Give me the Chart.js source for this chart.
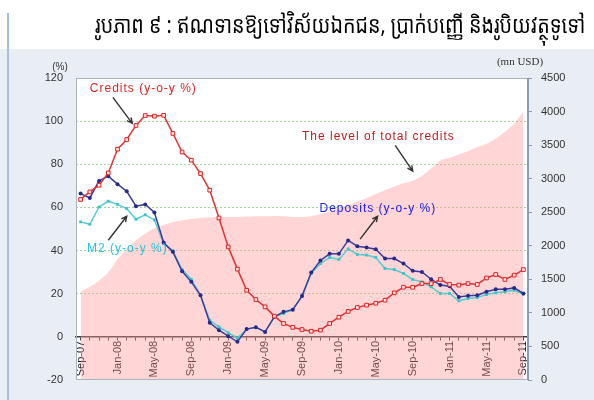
<!DOCTYPE html>
<html>
<head>
<meta charset="utf-8">
<script src="https://cdn.jsdelivr.net/npm/chart.js@4.4.1/dist/chart.umd.min.js"></script>
<style>
  html, body { margin: 0; padding: 0; }
  body { width: 594px; height: 400px; position: relative; overflow: hidden; background: #e9eef5; }
  #band { position: absolute; left: 0; top: 0; width: 594px; height: 49px; background: #fff; }
  #edge { position: absolute; left: 7px; top: 13px; width: 2px; height: 387px; background: #a3bde4; }
  #title { position: absolute; left: 95px; top: 6px; font-size: 24px; line-height: 36px; color: #000; white-space: nowrap;
           transform-origin: 0 0; font-family: "Noto Sans Khmer", "Khmer OS", "Noto Sans", sans-serif; }
  #wrap { position: absolute; left: 0; top: 0; width: 594px; height: 400px; }
</style>
</head>
<body>
<div id="band"></div>
<div id="edge"></div>
<div id="wrap"><canvas id="chart" width="594" height="400"></canvas></div>
<div id="title">រូបភាព ៩ : ឥណទានឱ្យទៅវិស័យឯកជន, ប្រាក់បញ្ញើ និងរូបិយវត្ថុទូទៅ</div>
<script>
// monthly, Sep-07 .. Sep-11
const months = [
  'Sep-07','Oct-07','Nov-07','Dec-07','Jan-08','Feb-08','Mar-08','Apr-08','May-08','Jun-08','Jul-08','Aug-08',
  'Sep-08','Oct-08','Nov-08','Dec-08','Jan-09','Feb-09','Mar-09','Apr-09','May-09','Jun-09','Jul-09','Aug-09',
  'Sep-09','Oct-09','Nov-09','Dec-09','Jan-10','Feb-10','Mar-10','Apr-10','May-10','Jun-10','Jul-10','Aug-10',
  'Sep-10','Oct-10','Nov-10','Dec-10','Jan-11','Feb-11','Mar-11','Apr-11','May-11','Jun-11','Jul-11','Aug-11',
  'Sep-11'
];

// y-o-y growth, %
const creditsYoY = [63.7, 67.2, 70.3, 76, 87, 91.5, 98, 102.6, 102.3, 102.7, 94.3, 85.7, 81.9, 75.7, 68, 55.1,
  41.7, 31.4, 21.6, 17.3, 13.9, 9.6, 6.2, 4.4, 3.4, 2.6, 3.1, 6.2, 9.1, 11.8, 13.6, 14.7, 15.6, 17, 20.4, 23,
  23, 24.7, 24.7, 26.6, 24.3, 24, 24.7, 24.3, 27.3, 28.9, 26.6, 28.6, 31.2];
const depositsYoY = [66.4, 64.4, 72.3, 74.5, 70.8, 67.5, 60.6, 61.4, 57.7, 43.7, 39.4, 30.4, 25.5, 19.3, 6.5, 3.1,
  0.3, -2.3, 3.6, 4.4, 2.3, 9.3, 11.6, 12.6, 18.9, 29.8, 35.4, 38.5, 38.5, 44.7, 42, 41.4, 40.6, 36.3, 36.3, 34,
  30.6, 30.1, 26.7, 24, 23.5, 18.5, 19, 19.3, 20.9, 22.1, 22.1, 22.7, 20.1];
const m2YoY = [53.3, 52.2, 60.2, 62.9, 61.4, 59.5, 54.5, 56.6, 54.2, 43.3, 39.9, 31.2, 26.7, 19.3, 7.7, 4.6,
  1.9, -0.5, 3.6, 4.4, 2.3, 9.2, 10.8, 12.6, 18.9, 29.4, 34, 36.8, 35.9, 40.8, 38.2, 37.9, 36.8, 31.7, 31.2, 29.4,
  26.6, 25.5, 23.2, 20.1, 20.1, 16.7, 17.8, 18.2, 19.6, 20.4, 20.9, 21.6, 19.8];

// level of total credits, mn USD (right axis)
const totalCredits = [1320, 1390, 1480, 1600, 1800, 1950, 2080, 2180, 2260, 2310, 2350, 2380, 2400, 2415, 2425, 2430,
  2430, 2430, 2435, 2440, 2440, 2445, 2440, 2430, 2430, 2440, 2470, 2510, 2560, 2610, 2660, 2710, 2770, 2830, 2880, 2930,
  2970, 3040, 3150, 3270, 3310, 3360, 3410, 3470, 3520, 3600, 3700, 3820, 4000];

const pctRange = [-20, 120];
const usdRange = [0, 4500];

// callouts, anchored in data units: [month index, % value]
const notes = [
  { text: 'Credits (y-o-y %)', color: '#e02424', at: [1.0, 115.2], from: [3.5, 111], to: [5.6, 99] },
  { text: 'The level of total credits', color: '#c41a1a', at: [24.0, 93], from: [34.1, 88.8], to: [36.0, 76.8] },
  { text: 'Deposits (y-o-y %)', color: '#1a1aff', at: [25.9, 59.2], from: [30.3, 45.3], to: [32.2, 55.9] },
  { text: 'M2 (y-o-y %)', color: '#22c4e0', at: [0.7, 41.1], from: [3.0, 44.8], to: [5.0, 55.9] }
];

const FONT = '"Liberation Sans", Arial, sans-serif';

// squeeze the title into the width it takes in the original
const title = document.getElementById('title');
title.style.transform = 'scaleX(' + (490 / title.scrollWidth) + ')';

function arrow(ctx, x1, y1, x2, y2) {
  const a = Math.atan2(y2 - y1, x2 - x1);
  ctx.beginPath();
  ctx.moveTo(x1, y1);
  ctx.lineTo(x2, y2);
  ctx.moveTo(x2 - 6 * Math.cos(a - 0.45), y2 - 6 * Math.sin(a - 0.45));
  ctx.lineTo(x2, y2);
  ctx.lineTo(x2 - 6 * Math.cos(a + 0.45), y2 - 6 * Math.sin(a + 0.45));
  ctx.stroke();
}

const frame = {
  id: 'frame',
  beforeDraw(chart) {
    const { ctx, chartArea: a } = chart;
    ctx.save();
    ctx.fillStyle = '#fff';
    ctx.fillRect(a.left, a.top, a.right - a.left, a.bottom - a.top);
    ctx.restore();
  },
  afterDraw(chart) {
    const { ctx, chartArea: a, scales } = chart;
    ctx.save();
    ctx.strokeStyle = '#a9b3bf';
    ctx.lineWidth = 1;
    ctx.strokeRect(a.left + 0.5, a.top + 0.5, a.right - a.left - 1, a.bottom - a.top - 1);
    ctx.strokeStyle = '#8d9bb0';
    ctx.lineWidth = 2;
    ctx.beginPath();
    ctx.moveTo(a.right, a.top);
    ctx.lineTo(a.right, a.bottom);
    ctx.stroke();

    ctx.fillStyle = '#333';
    ctx.textAlign = 'center';
    ctx.textBaseline = 'middle';
    ctx.font = '10px ' + FONT;
    ctx.fillText('(%)', a.left - 16, a.top - 11);
    ctx.font = '11px "Liberation Serif", "Times New Roman", serif';
    ctx.fillText('(mn USD)', a.right - 8, a.top - 16);

    ctx.font = '12px ' + FONT;
    ctx.letterSpacing = '1px';
    ctx.textAlign = 'left';
    for (const n of notes) {
      const x = scales.x.getPixelForValue(n.at[0]);
      const y = scales.y.getPixelForValue(n.at[1]);
      ctx.fillStyle = n.color;
      ctx.fillText(n.text, x, y);
      ctx.strokeStyle = '#333';
      ctx.lineWidth = 1.4;
      arrow(ctx, scales.x.getPixelForValue(n.from[0]), scales.y.getPixelForValue(n.from[1]),
                 scales.x.getPixelForValue(n.to[0]), scales.y.getPixelForValue(n.to[1]));
    }
    ctx.restore();
  }
};

new Chart(document.getElementById('chart'), {
  type: 'line',
  data: {
    labels: months,
    datasets: [
      {
        label: 'Credits (y-o-y %)',
        data: creditsYoY,
        yAxisID: 'y',
        borderColor: '#e03434',
        borderWidth: 1.5,
        pointStyle: 'rect',
        pointRadius: 2.6,
        pointBorderWidth: 1,
        pointBorderColor: '#e02020',
        pointBackgroundColor: '#ffe6e6',
        tension: 0,
        order: 0
      },
      {
        label: 'Deposits (y-o-y %)',
        data: depositsYoY,
        yAxisID: 'y',
        borderColor: '#3a3c9c',
        borderWidth: 1.5,
        pointStyle: 'circle',
        pointRadius: 2,
        pointBorderWidth: 0,
        pointBackgroundColor: '#262a8a',
        tension: 0,
        order: 1
      },
      {
        label: 'M2 (y-o-y %)',
        data: m2YoY,
        yAxisID: 'y',
        borderColor: '#56cdd0',
        borderWidth: 1.5,
        pointStyle: 'rect',
        pointRadius: 2,
        pointBorderWidth: 0,
        pointBackgroundColor: '#3ec4c8',
        tension: 0,
        order: 2
      },
      {
        label: 'The level of total credits',
        data: totalCredits,
        yAxisID: 'y1',
        borderWidth: 0,
        pointRadius: 0,
        backgroundColor: 'rgba(255, 150, 150, 0.4)',
        fill: 'start',
        tension: 0.3,
        order: 3
      }
    ]
  },
  options: {
    responsive: false,
    animation: false,
    events: [],
    layout: { padding: { left: 26, right: 0, top: 78, bottom: 20 } },
    plugins: { legend: { display: false }, tooltip: { enabled: false } },
    scales: {
      x: {
        position: { y: 0 },
        offset: true,
        border: { color: '#3c3c3c', width: 1.5 },
        grid: { offset: false, drawOnChartArea: false, drawTicks: true, tickLength: 3, color: '#3c3c3c' },
        ticks: {
          autoSkip: false,
          minRotation: 90,
          maxRotation: 90,
          padding: 1,
          color: '#111',
          font: { family: FONT, size: 11 },
          callback: (v, i) => (i % 4 === 0 ? months[i] : '')
        }
      },
      y: {
        position: 'left',
        min: pctRange[0],
        max: pctRange[1],
        afterFit: s => { s.width = 50; },
        border: { display: false, dash: [2, 2] },
        grid: {
          drawTicks: false,
          color: c => (c.tick.value > 0 && c.tick.value < 120 ? '#9fd696' : 'rgba(0,0,0,0)')
        },
        ticks: { stepSize: 20, padding: 13, color: '#333', font: { family: FONT, size: 11 } }
      },
      y1: {
        position: 'right',
        min: usdRange[0],
        max: usdRange[1],
        afterFit: s => { s.width = 66; },
        border: { display: false },
        grid: { drawOnChartArea: false, drawTicks: true, tickLength: 4, color: '#8d9bb0' },
        ticks: {
          stepSize: 500, padding: 9, color: '#333', font: { family: FONT, size: 11 },
          callback: v => String(v)
        }
      }
    }
  },
  plugins: [frame]
});
</script>
</body>
</html>
